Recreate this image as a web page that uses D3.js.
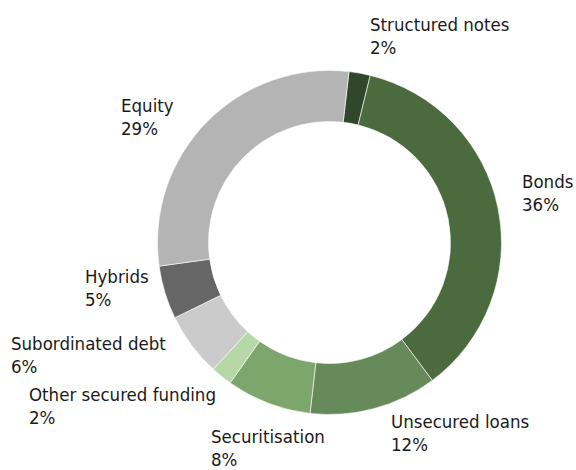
<!DOCTYPE html>
<html>
<head>
<meta charset="utf-8">
<script src="https://cdn.jsdelivr.net/npm/d3@7"></script>
<style>
  html, body { margin: 0; padding: 0; background: #ffffff; }
  svg { display: block; }
  .lbl { font-family: "DejaVu Sans Condensed", "DejaVu Sans", sans-serif; font-stretch: condensed; font-size: 18.5px; fill: #1a1a1a; }
</style>
</head>
<body>
<svg id="chart" width="576" height="470"></svg>
<script>
// ---- data ----
const categories = ["Structured notes", "Bonds", "Unsecured loans", "Securitisation",
                    "Other secured funding", "Subordinated debt", "Hybrids", "Equity"];
const shares = [2, 36, 12, 8, 2, 6, 5, 29];
const colors = ["#30472b", "#4b6b3e", "#678a5b", "#7da66c", "#b6d8a6", "#cbcbcb", "#666666", "#b4b4b4"];

// ---- layout ----
const W = 576, H = 470;
const cx = 329.5, cy = 242.5;
const outerR = 172, innerR = 121;
const startDeg = 6.5;
// label text block: left x and first-line baseline
const labelLayout = [
  [370, 31], [522, 188], [391, 428], [211, 443],
  [29, 401], [11, 350], [85, 283], [121, 112]
];
const lineH = 23;

const svg = d3.select("#chart");
const g = svg.append("g").attr("transform", `translate(${cx},${cy})`);

const pie = d3.pie()
  .sort(null)
  .value(d => d)
  .startAngle(startDeg * Math.PI / 180)
  .endAngle(startDeg * Math.PI / 180 + 2 * Math.PI);

const arc = d3.arc().innerRadius(innerR).outerRadius(outerR);
const color = d3.scaleOrdinal().domain(categories).range(colors);

const arcs = pie(shares);
g.selectAll("path.slice")
  .data(arcs)
  .join("path")
  .attr("class", "slice")
  .attr("d", arc)
  .attr("fill", (d, i) => color(categories[i]))
  .attr("stroke", "#ffffff")
  .attr("stroke-width", 0.6);

const labels = svg.selectAll("text.lbl")
  .data(categories)
  .join("text")
  .attr("class", "lbl")
  .attr("x", (d, i) => labelLayout[i][0])
  .attr("y", (d, i) => labelLayout[i][1]);

labels.append("tspan")
  .attr("x", (d, i) => labelLayout[i][0])
  .text(d => d);
labels.append("tspan")
  .attr("x", (d, i) => labelLayout[i][0])
  .attr("dy", lineH)
  .text((d, i) => shares[i] + "%");
</script>
</body>
</html>
